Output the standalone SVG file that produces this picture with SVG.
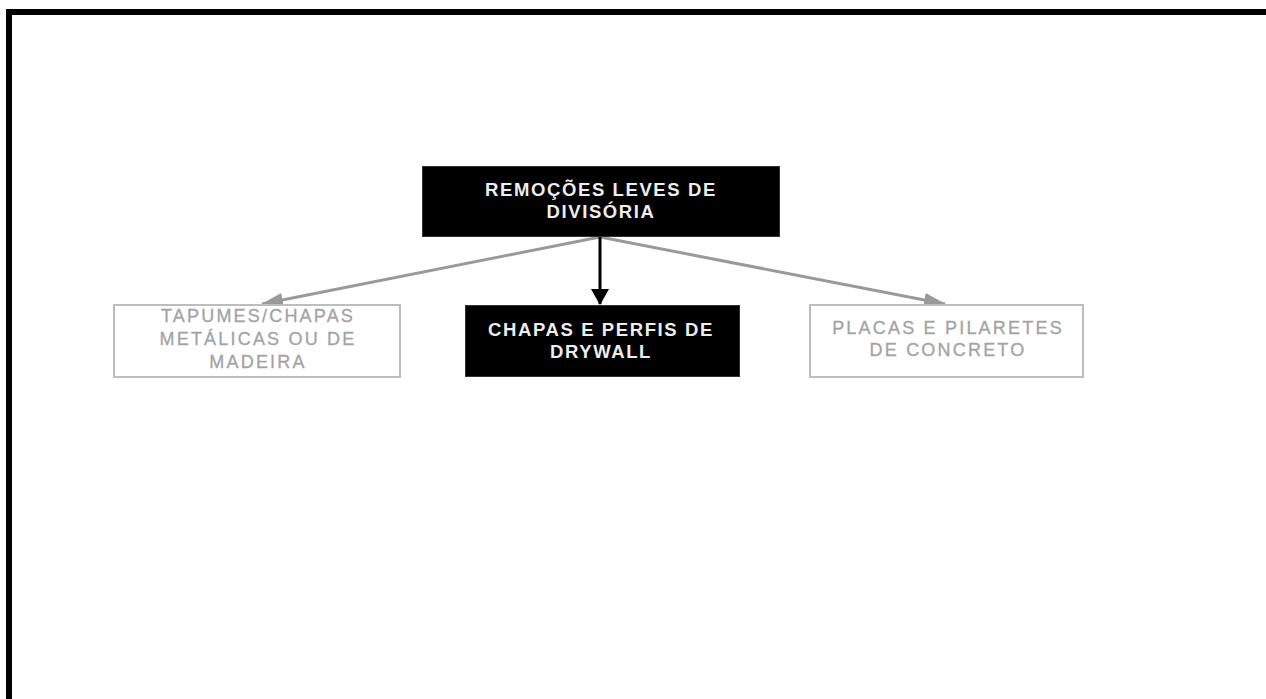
<svg xmlns="http://www.w3.org/2000/svg" width="1266" height="699" viewBox="0 0 1266 699">
<style>
.dark{fill:#000;stroke:#333;stroke-width:1}
.light{fill:#fff;stroke:#bdbdbd;stroke-width:2}
.tw{font-family:"Liberation Sans",Arial,sans-serif;font-weight:bold;font-size:18.5px;fill:#ededed;text-anchor:middle;letter-spacing:1.6px}
.tg{font-family:"Liberation Sans",Arial,sans-serif;font-size:18px;fill:#a3a3a3;text-anchor:middle;letter-spacing:2.2px;stroke:#a3a3a3;stroke-width:0.3}
</style>
<defs>
<marker id="ag" viewBox="0 0 22 14" refX="21" refY="7" markerWidth="22" markerHeight="14" markerUnits="userSpaceOnUse" orient="auto"><path d="M0,0 L22,7 L0,14 z" fill="#999"/></marker>
<marker id="ab" viewBox="0 0 16 18" refX="15" refY="9" markerWidth="16" markerHeight="18" markerUnits="userSpaceOnUse" orient="auto"><path d="M0,0 L16,9 L0,18 z" fill="#000"/></marker>
</defs>
<rect width="1266" height="699" fill="#fff"/>
<path d="M9,699 L9,12 L1266,12" fill="none" stroke="#000" stroke-width="6"/>
<g id="connectors">
<line x1="600" y1="237" x2="262" y2="304" stroke="#999" stroke-width="3" marker-end="url(#ag)"/>
<line x1="600" y1="237" x2="945" y2="304" stroke="#999" stroke-width="3" marker-end="url(#ag)"/>
<line x1="600" y1="237" x2="600" y2="304" stroke="#000" stroke-width="3" marker-end="url(#ab)"/>
</g>
<g id="node-top">
<rect class="dark" x="422.5" y="166.5" width="357" height="70"/>
<text class="tw" x="601" y="196">REMOÇÕES LEVES DE</text>
<text class="tw" x="601" y="218">DIVISÓRIA</text>
</g>
<g id="node-center">
<rect class="dark" x="465.5" y="305.5" width="274" height="71"/>
<text class="tw" x="601" y="336">CHAPAS E PERFIS DE</text>
<text class="tw" x="601" y="358">DRYWALL</text>
</g>
<g id="node-left">
<rect class="light" x="114" y="305" width="286" height="72"/>
<text class="tg" x="258" y="322">TAPUMES/CHAPAS</text>
<text class="tg" x="258" y="345">METÁLICAS OU DE</text>
<text class="tg" x="258" y="368">MADEIRA</text>
</g>
<g id="node-right">
<rect class="light" x="810" y="305" width="273" height="72"/>
<text class="tg" x="948" y="334">PLACAS E PILARETES</text>
<text class="tg" x="948" y="356">DE CONCRETO</text>
</g>
</svg>
